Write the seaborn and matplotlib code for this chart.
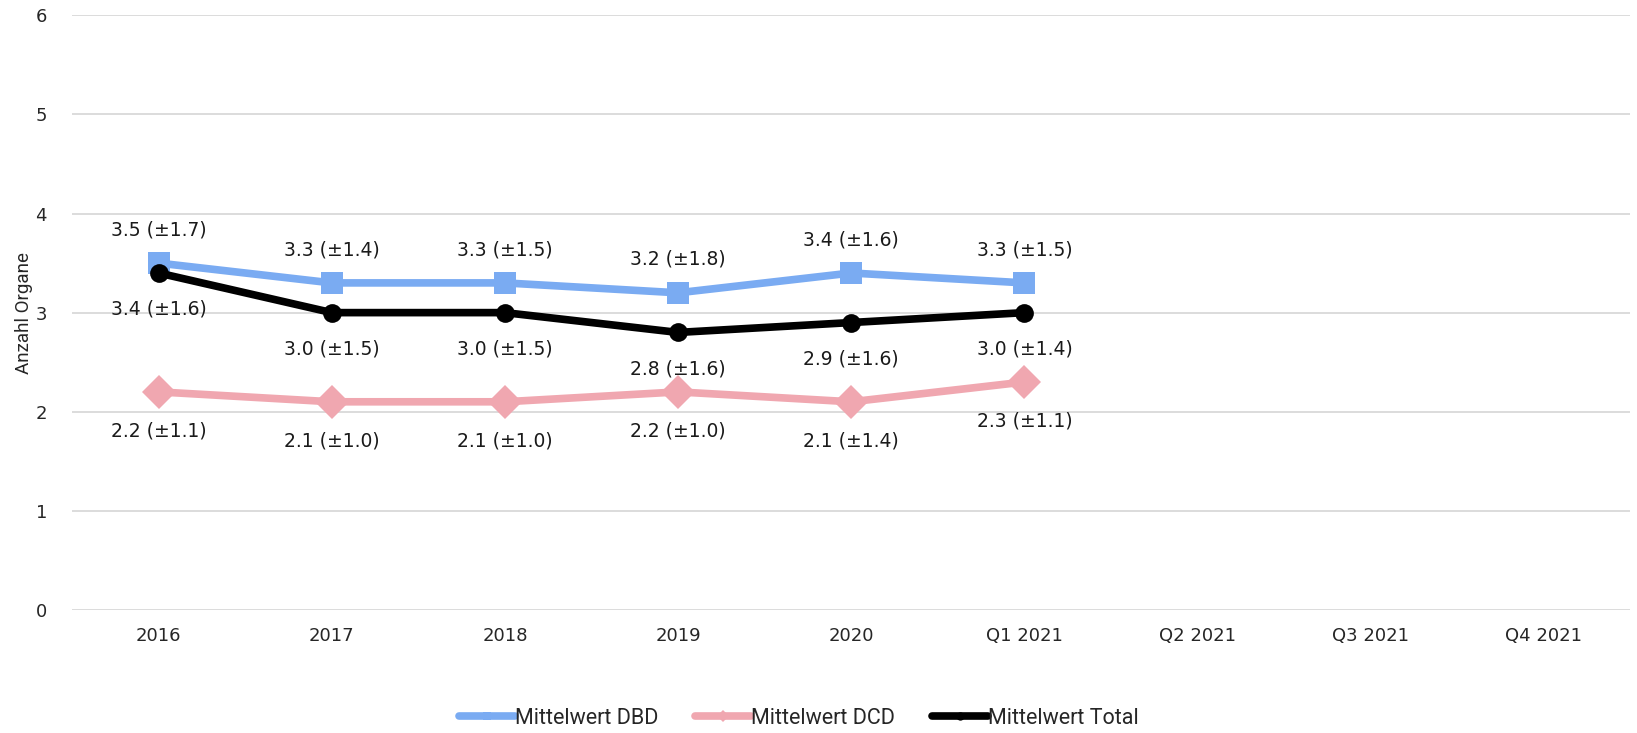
import pandas as pd
import numpy as np
import seaborn as sns
import matplotlib.pyplot as plt
from matplotlib.lines import Line2D

categories = ['2016', '2017', '2018', '2019', '2020', 'Q1 2021', 'Q2 2021', 'Q3 2021', 'Q4 2021']
dbd_mean = [3.5, 3.3, 3.3, 3.2, 3.4, 3.3]
dbd_sd = [1.7, 1.4, 1.5, 1.8, 1.6, 1.5]
dcd_mean = [2.2, 2.1, 2.1, 2.2, 2.1, 2.3]
dcd_sd = [1.1, 1.0, 1.0, 1.0, 1.4, 1.1]
total_mean = [3.4, 3.0, 3.0, 2.8, 2.9, 3.0]
total_sd = [1.6, 1.5, 1.5, 1.6, 1.6, 1.4]

series = ['Mittelwert DBD', 'Mittelwert DCD', 'Mittelwert Total']
colors = {'Mittelwert DBD': '#7aabf2', 'Mittelwert DCD': '#f0a7b0', 'Mittelwert Total': '#000000'}
markers = {'Mittelwert DBD': 's', 'Mittelwert DCD': 'D', 'Mittelwert Total': 'o'}
msizes = {'Mittelwert DBD': 16, 'Mittelwert DCD': 17, 'Mittelwert Total': 13.5}
label_offset = {'Mittelwert DBD': 24, 'Mittelwert DCD': -28, 'Mittelwert Total': -26}

rows = []
for name, m, s in zip(series, [dbd_mean, dcd_mean, total_mean], [dbd_sd, dcd_sd, total_sd]):
    for i, (mv, sv) in enumerate(zip(m, s)):
        rows.append({'pos': i, 'Periode': categories[i], 'Serie': name, 'Wert': mv, 'SD': sv})
df = pd.DataFrame(rows)

sns.set_theme(style="white")
plt.rcParams['font.family'] = ['DejaVu Sans']

fig = plt.figure(figsize=(16.37, 7.33), dpi=100)
ax = fig.add_axes([0.044, 0.168, 0.952, 0.811])

for name in series:
    sub = df[df['Serie'] == name]
    sns.lineplot(data=sub, x='pos', y='Wert', ax=ax, color=colors[name], linewidth=5.5,
                 marker=markers[name], markersize=msizes[name], markeredgewidth=0, legend=False)
    for _, r in sub.iterrows():
        ax.annotate(f"{r['Wert']:.1f} (\u00b1{r['SD']:.1f})", (r['pos'], r['Wert']),
                    xytext=(0, label_offset[name]), textcoords='offset points',
                    ha='center', va='center', fontsize=13.5, color='#1a1a1a')

ax.set_xlim(-0.5, len(categories) - 0.5)
ax.set_ylim(0, 6)
ax.set_xticks(range(len(categories)))
ax.set_xticklabels(categories, fontsize=13)
ax.set_yticks(range(0, 7))
ax.tick_params(axis='y', labelsize=13, pad=18, length=0)
ax.tick_params(axis='x', pad=12, length=0)
ax.yaxis.grid(True, color='#d9d9d9', linewidth=1.3)
ax.set_axisbelow(True)
for sp in ax.spines.values():
    sp.set_visible(False)
ax.set_xlabel('')
ax.set_ylabel('Anzahl Organe', fontsize=13.5, family='Roboto', labelpad=2)

handles = [Line2D([0], [0], color=colors[n], linewidth=5.5, marker=markers[n], markersize=6,
                  markeredgewidth=0) for n in series]
fig.legend(handles, series, loc='center', bbox_to_anchor=(0.488, 0.02), ncol=3, frameon=False,
           prop={'family': 'Roboto', 'size': 15.5}, handlelength=2.6, handletextpad=0.0, columnspacing=1.7)

fig.savefig('out.png', dpi=100)
